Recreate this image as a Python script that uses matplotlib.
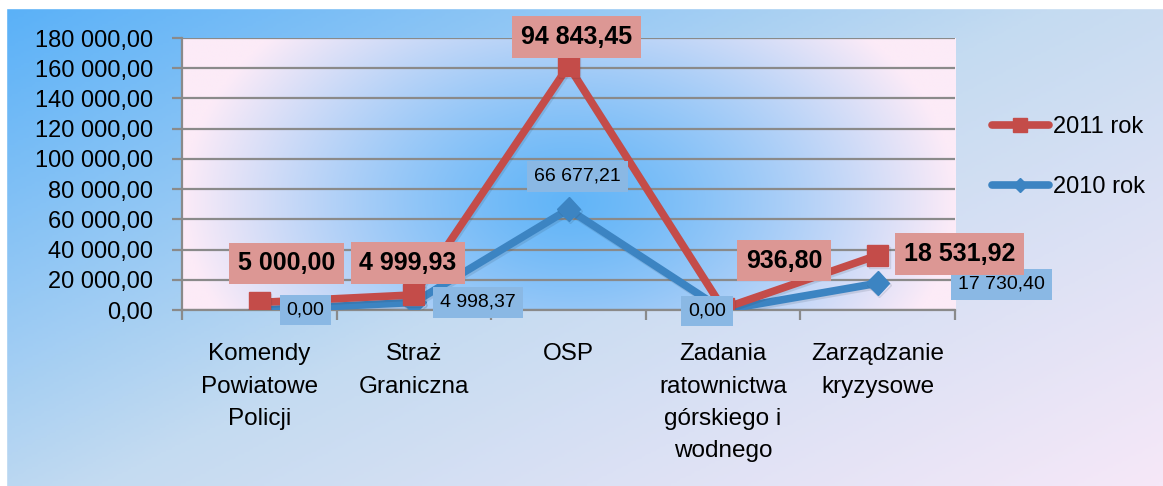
import numpy as np
import matplotlib.pyplot as plt
import matplotlib.patheffects as pe
from matplotlib.colors import LinearSegmentedColormap, to_rgb
from matplotlib.lines import Line2D
from matplotlib.patches import Rectangle

plt.rcParams['font.family'] = ['Liberation Sans Narrow', 'Liberation Sans', 'DejaVu Sans']

categories = ["Komendy\nPowiatowe\nPolicji", "Straż\nGraniczna", "OSP",
              "Zadania\nratownictwa\ngórskiego i\nwodnego", "Zarządzanie\nkryzysowe"]
rok_2010 = [0.00, 4998.37, 66677.21, 0.00, 17730.40]
rok_2011 = [5000.00, 4999.93, 94843.45, 936.80, 18531.92]
y_ticks = [0, 20000, 40000, 60000, 80000, 100000, 120000, 140000, 160000, 180000]

# label offsets (pixels, right / up) relative to each point
off_2011 = [(27, 39), (-6, 32), (8, 29), (61, 48), (82, 1)]
off_2010 = [(46, 0), (64, 0), (9, 33), (-16, -1), (124, -1)]


def pl(v):
    return f"{v:,.2f}".replace(",", " ").replace(".", ",")


W, H = 1163, 486
fig = plt.figure(figsize=(W / 100, H / 100), dpi=100)

# figure background gradient
bg = fig.add_axes([0, 0, 1, 1], zorder=-10)
yy, xx = np.mgrid[0:1:200j, 0:1:400j]
t = np.clip((0.6 * xx + 0.5 * yy) / 1.1, 0, 1)
bg_cmap = LinearSegmentedColormap.from_list('bg', ['#58b0f8', '#c4dbf1', '#f6e8f8'])
bg.imshow(t, cmap=bg_cmap, extent=[0, 1, 0, 1], aspect='auto', origin='upper')
bg.add_patch(Rectangle((0, 1 - 8 / H), 1, 8 / H, color='white', zorder=2))
bg.add_patch(Rectangle((0, 0), 6 / W, 1, color='white', zorder=2))
bg.set_xlim(0, 1)
bg.set_ylim(0, 1)
bg.axis('off')

ax = fig.add_axes([182 / W, 1 - 310 / H, (955 - 182) / W, (310 - 38) / H])

# plot area: pink with a blue glow in the middle
py, px = np.mgrid[0:1:200j, 0:1:400j]
d = np.clip(np.sqrt(((px - 0.5) / 0.5) ** 2 + ((py - 0.6) / 0.95) ** 2), 0, 1) ** 1.3
blue = np.array(to_rgb('#62b5f8'))
pink = np.array(to_rgb('#fcebf7'))
img = blue[None, None, :] * (1 - d[..., None]) + pink[None, None, :] * d[..., None]
ax.imshow(img, extent=[0, 5, 0, 180000], aspect='auto', origin='upper', zorder=-1)

x = np.arange(len(categories)) + 0.5
cum_2010 = np.array(rok_2010)
cum_2011 = cum_2010 + np.array(rok_2011)

shadow = [pe.SimpleLineShadow(offset=(1, -1.5), alpha=0.12, shadow_color='#203040'), pe.Normal()]
ax.plot(x, cum_2010, color='#3c84c2', lw=5.5, marker='D', ms=12,
        solid_capstyle='round', zorder=3, path_effects=shadow)
ax.plot(x, cum_2011, color='#c44c49', lw=5.5, marker='s', ms=15,
        solid_capstyle='round', zorder=4, path_effects=shadow)

for xi, yi, v, (dx, dy) in zip(x, cum_2011, rok_2011, off_2011):
    ax.annotate(pl(v), (xi, yi), xytext=(dx * 0.72, dy * 0.72), textcoords='offset points',
                ha='center', va='center', fontsize=18, fontweight='bold', zorder=6,
                bbox=dict(boxstyle='square,pad=0.35', fc='#dc9794', ec='none'))
for xi, yi, v, (dx, dy) in zip(x, cum_2010, rok_2010, off_2010):
    ax.annotate(pl(v), (xi, yi), xytext=(dx * 0.72, dy * 0.72), textcoords='offset points',
                ha='center', va='center', fontsize=14, zorder=5,
                bbox=dict(boxstyle='square,pad=0.35', fc='#8ab8e4', ec='none'))

ax.set_xlim(0, 5)
ax.set_ylim(0, 180000)
ax.set_yticks(y_ticks)
ax.set_yticklabels([pl(v) for v in y_ticks], fontsize=17)
ax.yaxis.grid(True, color='#8a8a8a', lw=1.6)
ax.set_xticks(np.arange(6))
ax.set_xticklabels([])
ax.set_xticks(x, minor=True)
ax.set_xticklabels(categories, minor=True, fontsize=17.5, linespacing=1.6, va='top')
ax.tick_params(axis='x', which='minor', length=0, pad=24)
ax.tick_params(axis='x', which='major', length=7, color='#8a8a8a', width=1.6, direction='out')
ax.tick_params(axis='y', length=7, color='#8a8a8a', width=1.6, pad=14)
for s in ['top', 'right']:
    ax.spines[s].set_visible(False)
for s in ['left', 'bottom']:
    ax.spines[s].set_color('#8a8a8a')
    ax.spines[s].set_linewidth(1.6)

handles = [
    Line2D([], [], color='#c44c49', lw=5.5, marker='s', ms=10, solid_capstyle='round'),
    Line2D([], [], color='#3c84c2', lw=5.5, marker='D', ms=7, solid_capstyle='round'),
]
fig.legend(handles, ['2011 rok', '2010 rok'], loc='center left',
           bbox_to_anchor=(992 / W, 1 - 157 / H), frameon=False, fontsize=17,
           handlelength=2.4, handletextpad=0.2, labelspacing=1.6,
           borderpad=0, borderaxespad=0)

fig.savefig('out.png', dpi=100)
